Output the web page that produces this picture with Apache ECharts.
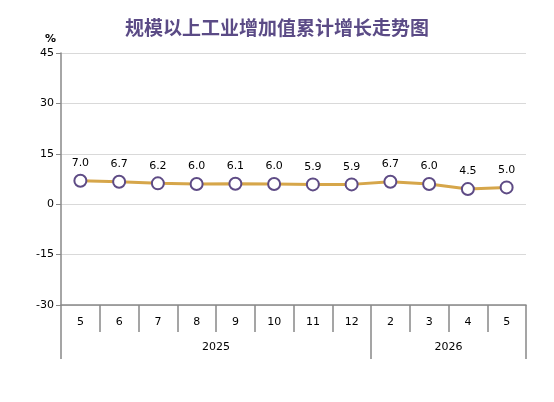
<!DOCTYPE html>
<html>
<head>
<meta charset="utf-8">
<script src="https://cdn.jsdelivr.net/npm/echarts@6/dist/echarts.min.js"></script>
<style>
html,body{margin:0;padding:0;background:#fff;}
#chart{width:554px;height:402px;}
</style>
</head>
<body>
<div id="chart"></div>
<script>
var months = ['5','6','7','8','9','10','11','12','2','3','4','5'];
var growth = [7.0, 6.7, 6.2, 6.0, 6.1, 6.0, 5.9, 5.9, 6.7, 6.0, 4.5, 5.0];
var yearNames = ['2025', '2026'];
var yearBounds = [0, 8, 12];      // category index where each year starts / ends
var yearCenters = [4, 10];
var yTicks = [-30, -15, 0, 15, 30, 45];

var chart = echarts.init(document.getElementById('chart'));
var fontName = 'DejaVu Sans';

chart.setOption({
    animation: false,
    title: {
        text: '规模以上工业增加值累计增长走势图',
        left: 'center',
        top: 13,
        textStyle: {
            fontFamily: 'Noto Sans CJK SC',
            fontSize: 19,
            fontWeight: 'bold',
            color: '#5b4b86'
        }
    },
    grid: {
        left: 61,
        right: 28,
        top: 53,
        bottom: 97
    },
    xAxis: [
        {
            type: 'category',
            data: months,
            boundaryGap: true,
            position: 'bottom',
            axisLine: {onZero: false, lineStyle: {color: '#888', width: 1.5}},
            axisTick: {
                show: true,
                interval: 0,
                length: 27,
                lineStyle: {color: '#888', width: 1.5}
            },
            axisLabel: {
                interval: 0,
                margin: 12,
                color: '#000',
                fontFamily: fontName,
                fontSize: 11
            }
        },
        {   // year row
            type: 'value',
            min: 0,
            max: 12,
            position: 'bottom',
            axisLine: {show: false, onZero: false},
            splitLine: {show: false},
            axisTick: {
                show: true,
                customValues: yearBounds,
                length: 54,
                lineStyle: {color: '#888', width: 1.5}
            },
            axisLabel: {
                customValues: yearCenters,
                margin: 37,
                color: '#000',
                fontFamily: fontName,
                fontSize: 11,
                formatter: function (v) {
                    return yearNames[yearCenters.indexOf(v)];
                }
            }
        }
    ],
    yAxis: {
        type: 'value',
        min: yTicks[0],
        max: yTicks[yTicks.length - 1],
        interval: 15,
        name: '%',
        nameGap: 8,
        nameTextStyle: {
            color: '#000',
            fontFamily: fontName,
            fontSize: 11,
            fontWeight: 'bold',
            align: 'right',
            padding: [0, 5, 0, 0]
        },
        axisLine: {show: true, lineStyle: {color: '#888', width: 1.5}},
        axisTick: {show: true, length: 5, lineStyle: {color: '#888'}},
        axisLabel: {
            margin: 7,
            color: '#000',
            fontFamily: fontName,
            fontSize: 11
        },
        splitLine: {lineStyle: {color: '#d9d9d9', width: 1}}
    },
    series: [
        {
            type: 'line',
            xAxisIndex: 0,
            data: growth,
            symbol: 'circle',
            symbolSize: 12,
            lineStyle: {color: '#d6a64a', width: 3},
            itemStyle: {
                color: '#fff',
                borderColor: '#5e4b85',
                borderWidth: 2
            },
            label: {
                show: true,
                position: 'top',
                distance: 5,
                color: '#000',
                fontFamily: fontName,
                fontSize: 11,
                formatter: function (p) {
                    return p.value.toFixed(1);
                }
            }
        }
    ]
});
</script>
</body>
</html>
